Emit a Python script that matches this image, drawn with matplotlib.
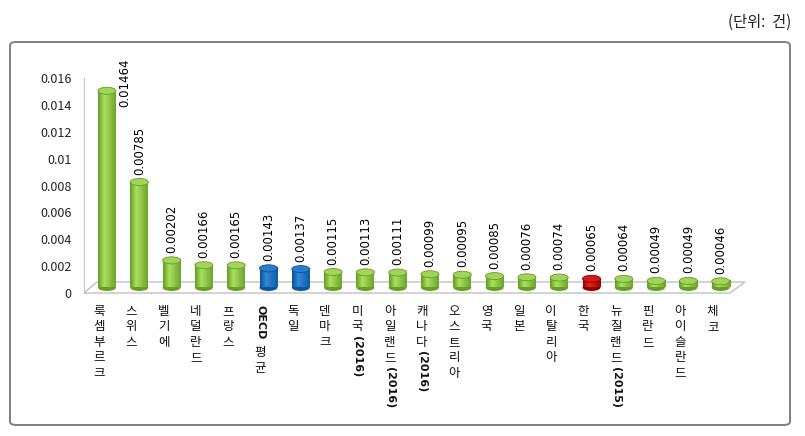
import re
import numpy as np
import matplotlib
matplotlib.use("Agg")
import matplotlib.pyplot as plt
from matplotlib.patches import Ellipse, Polygon, FancyBboxPatch

plt.rcParams['font.family'] = ['Noto Sans CJK KR', 'DejaVu Sans']

# 데이터
cats = ['룩셈부르크', '스위스', '벨기에', '네덜란드', '프랑스', 'OECD 평균', '독일', '덴마크',
        '미국(2016)', '아일랜드(2016)', '캐나다(2016)', '오스트리아', '영국', '일본', '이탈리아',
        '한국', '뉴질랜드(2015)', '핀란드', '아이슬란드', '체코']
values = [0.01464, 0.00785, 0.00202, 0.00166, 0.00165, 0.00143, 0.00137, 0.00115,
          0.00113, 0.00111, 0.00099, 0.00095, 0.00085, 0.00076, 0.00074,
          0.00065, 0.00064, 0.00049, 0.00049, 0.00046]
yticks = [0, 0.002, 0.004, 0.006, 0.008, 0.01, 0.012, 0.014, 0.016]
ytick_labels = ['0', '0.002', '0.004', '0.006', '0.008', '0.01', '0.012', '0.014', '0.016']
blue_idx = [5, 6]
red_idx = [15]

# 색 (왼쪽 가장자리, 하이라이트, 오른쪽 가장자리, 윗면)
green = ('#5f9a1f', '#addf60', '#6aa52a', '#a3d45a')
blue = ('#0b4f95', '#3089d8', '#0f5aa5', '#2a7ccb')
red = ('#8a0000', '#e22424', '#a00000', '#d21818')

W, H = 805, 436
fig = plt.figure(figsize=(W / 100, H / 100), dpi=100)

# 바깥 테두리
fig.patches.append(FancyBboxPatch((10 / W, (H - 425) / H), 780 / W, 383 / H,
                                  boxstyle='round,pad=0,rounding_size=0.008',
                                  transform=fig.transFigure, facecolor='none',
                                  edgecolor='#7f7f7f', lw=1.4, zorder=-1))
fig.text(791 / W, (H - 22) / H, '(단위:  건)', ha='right', va='center', fontsize=11, color='#222222')

ax_l, ax_r, ax_b, ax_t = 84, 745, 293, 78
ax = fig.add_axes([ax_l / W, (H - ax_b) / H, (ax_r - ax_l) / W, (ax_b - ax_t) / H])
ax.patch.set_visible(False)

x0px, step = 107, 32.3
xmin = (ax_l - x0px) / step
xmax = (ax_r - x0px) / step
ypx = (ax_b - ax_t) / 0.016   # px per data unit

for s in ['top', 'right', 'bottom']:
    ax.spines[s].set_visible(False)
ax.spines['left'].set_color('#c8c8c8')
ax.set_xticks([])
ax.set_yticks(yticks)
ax.set_yticklabels(ytick_labels, fontsize=9, color='#222222')
ax.tick_params(axis='y', length=0, pad=9)

# 바닥 (3D 느낌)
depth = 11 / ypx
floor = Polygon([(xmin, 0), ((730 - x0px) / step, 0), (xmax, depth), ((97 - x0px) / step, depth)],
                closed=True, facecolor='white', edgecolor='#c0c0c0', lw=1.0, clip_on=False, zorder=1)
ax.add_patch(floor)


def mix(c1, c2, t):
    a = np.array(matplotlib.colors.to_rgb(c1))
    b = np.array(matplotlib.colors.to_rgb(c2))
    return a + (b - a) * t


def cylinder(x, v, cols):
    w = 18 / step
    off = 5.5 / ypx
    eh = 7 / ypx
    left, hi, right, top = cols
    n = 40
    grad = []
    for k in range(n):
        t = (k + 0.5) / n
        grad.append(mix(left, hi, t / 0.35) if t < 0.35 else mix(hi, right, (t - 0.35) / 0.65))
    ax.imshow(np.array(grad)[np.newaxis, :, :], extent=(x - w / 2, x + w / 2, off, off + v),
              aspect='auto', interpolation='bilinear', zorder=3, clip_on=False)
    ax.add_patch(Ellipse((x, off), w, eh, facecolor=mix(left, right, 0.5), edgecolor='none',
                         zorder=2.9, clip_on=False))
    ax.add_patch(Ellipse((x, off + v), w, eh, facecolor=top, edgecolor=mix(left, right, 0.3),
                         lw=0.6, zorder=4, clip_on=False))
    return off + v + eh / 2


for i, v in enumerate(values):
    cols = blue if i in blue_idx else red if i in red_idx else green
    ytop = cylinder(i, v, cols)
    txt = f'{v:.5f}'
    if i == 0:
        ax.text(i + 18 / step, (ax_b - 107) / ypx, txt, rotation=90, ha='center', va='bottom',
                fontsize=8.5, family='DejaVu Sans', color='black', clip_on=False)
    else:
        ax.text(i, ytop + 4 / ypx, txt, rotation=90, ha='center', va='bottom',
                fontsize=8.5, family='DejaVu Sans', color='black', clip_on=False)

ax.set_xlim(xmin, xmax)
ax.set_ylim(0, 0.016)

# 세로쓰기 항목 이름
renderer = fig.canvas.get_renderer()
trans = ax.get_xaxis_transform()


def vlabel(x, label):
    y = -12
    for p in re.findall(r'[!-~]+| +|[^ -~]', label):
        if p.isspace():
            y -= 6
        elif ord(p[0]) < 128:
            t = ax.annotate(p, xy=(x, 0), xycoords=trans, xytext=(0, y), textcoords='offset pixels',
                            rotation=-90, ha='center', va='top', fontsize=8, family='DejaVu Sans',
                            weight='bold', color='#111111', annotation_clip=False)
            y -= t.get_window_extent(renderer).height + 1
        else:
            ax.annotate(p, xy=(x, 0), xycoords=trans, xytext=(0, y), textcoords='offset pixels',
                        ha='center', va='top', fontsize=9, color='#111111', annotation_clip=False)
            y -= 15.4


for i, c in enumerate(cats):
    vlabel(i - 8 / step, c)

fig.savefig('out.png', dpi=100)
